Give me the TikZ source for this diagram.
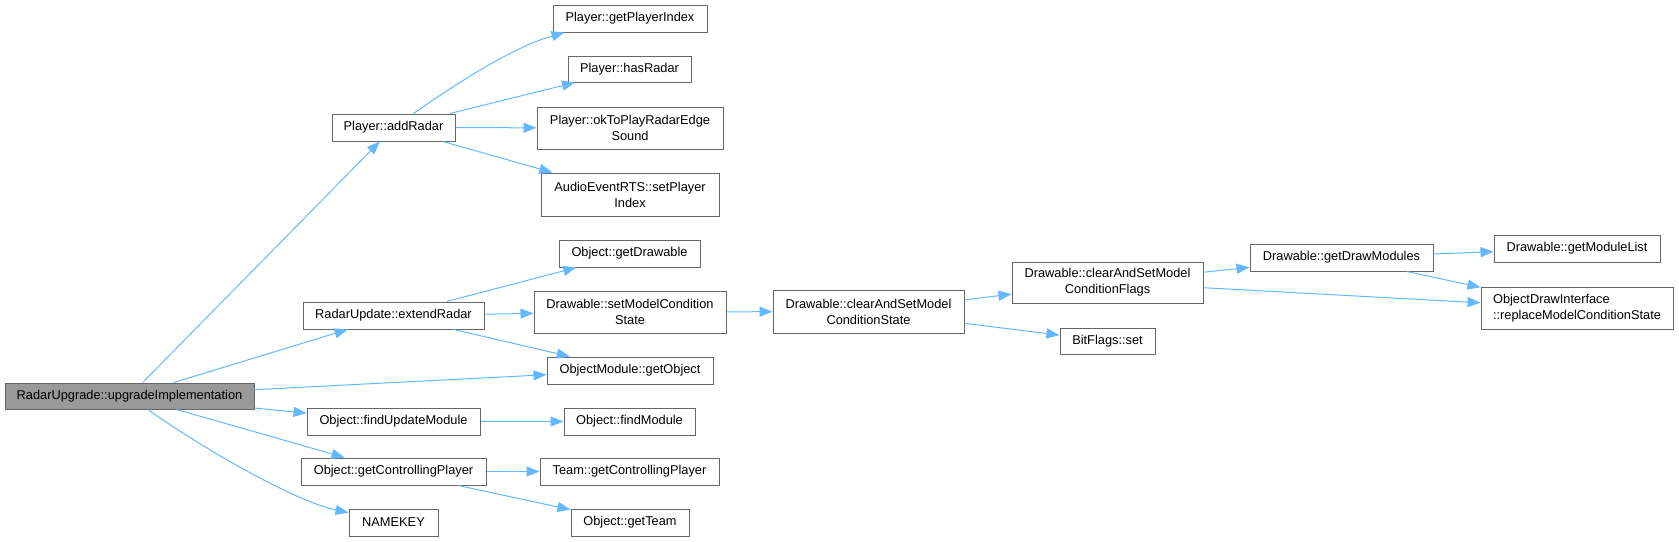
\documentclass[tikz,border=0pt]{standalone}
\usepackage{fontspec}
\setmainfont{Liberation Sans}
\usetikzlibrary{arrows.meta}
\definecolor{edgeblue}{HTML}{63B8FF}
\definecolor{boxline}{HTML}{666666}
\definecolor{rootfill}{HTML}{999999}
\tikzset{
  fn/.style={draw=boxline, fill=white, line width=1pt, inner sep=0pt, align=center,
    font=\fontsize{12.8}{16}\selectfont},
  rootbox/.style={fn, fill=rootfill},
  call/.style={draw=edgeblue, line width=1pt, -{Triangle[length=13pt,width=10pt]}}
}
\newcommand{\bx}[5]{\node[fn, minimum width=#3pt, minimum height=#4pt] (#1) at (#2) {#5};}
\begin{document}
\begin{tikzpicture}[x=1pt,y=-1pt]
\useasboundingbox (0,0) rectangle (1679,541);
\node[rootbox, minimum width=249pt, minimum height=26pt] (root) at (129.5,396) {RadarUpgrade::upgradeImplementation};
\bx{addRadar}{393.5,127.5}{123}{27}{Player::addRadar}
\bx{getPlayerIndex}{630,18.5}{154}{27}{Player::getPlayerIndex}
\bx{hasRadar}{629.5,69}{123}{26}{Player::hasRadar}
\bx{okToPlay}{630,128}{186}{42}{Player::okToPlayRadarEdge\\Sound}
\bx{setPlayerIndex}{630,194.5}{178}{43}{AudioEventRTS::setPlayer\\Index}
\bx{extendRadar}{393.5,315.5}{181}{27}{RadarUpdate::extendRadar}
\bx{getDrawable}{629.5,253.5}{141}{27}{Object::getDrawable}
\bx{setMCS}{630,312}{192}{42}{Drawable::setModelCondition\\State}
\bx{getObject}{630,370.5}{166}{27}{ObjectModule::getObject}
\bx{findUpdateModule}{393.5,421.5}{173}{27}{Object::findUpdateModule}
\bx{findModule}{629.5,421.5}{131}{27}{Object::findModule}
\bx{getCP}{393.5,471.5}{185}{27}{Object::getControllingPlayer}
\bx{teamCP}{629.5,471.5}{179}{27}{Team::getControllingPlayer}
\bx{namekey}{393.5,522.5}{89}{27}{NAMEKEY}
\bx{getTeam}{630,522.5}{118}{27}{Object::getTeam}
\bx{casState}{868.5,311.5}{191}{43}{Drawable::clearAndSetModel\\ConditionState}
\bx{casFlags}{1107.5,282.5}{191}{41}{Drawable::clearAndSetModel\\ConditionFlags}
\bx{bitset}{1107.5,341}{95}{26}{BitFlags::set}
\bx{drawModules}{1341.5,257.5}{183}{27}{Drawable::getDrawModules}
\bx{moduleList}{1577,248.5}{166}{27}{Drawable::getModuleList}
\node[fn, align=left, minimum width=192pt, minimum height=42pt] (replaceMCS) at (1577,308) {ObjectDrawInterface\\::replaceModelConditionState};

\draw[call] (root) -- (addRadar);
\draw[call] (root) -- (extendRadar);
\draw[call] (root) -- (getObject);
\draw[call] (root) -- (findUpdateModule);
\draw[call] (root) -- (getCP);
\draw[call] (root) .. controls (190,440) and (290,500) .. (namekey);
\draw[call] (addRadar) .. controls (450,88) and (510,48) .. ([xshift=12pt]getPlayerIndex.south west);
\draw[call] (addRadar) -- (hasRadar);
\draw[call] (addRadar) -- (okToPlay);
\draw[call] (addRadar) -- (setPlayerIndex);
\draw[call] (extendRadar) -- (getDrawable);
\draw[call] (extendRadar) -- (setMCS);
\draw[call] (extendRadar) -- (getObject);
\draw[call] (findUpdateModule) -- (findModule);
\draw[call] (getCP) -- (teamCP);
\draw[call] (getCP) -- (getTeam);
\draw[call] (setMCS) -- (casState);
\draw[call] (casState) -- (casFlags);
\draw[call] (casState) -- (bitset);
\draw[call] (casFlags) -- (drawModules);
\draw[call] (casFlags) -- (replaceMCS);
\draw[call] (drawModules) -- (moduleList);
\draw[call] (drawModules) -- (replaceMCS);
\end{tikzpicture}
\end{document}
